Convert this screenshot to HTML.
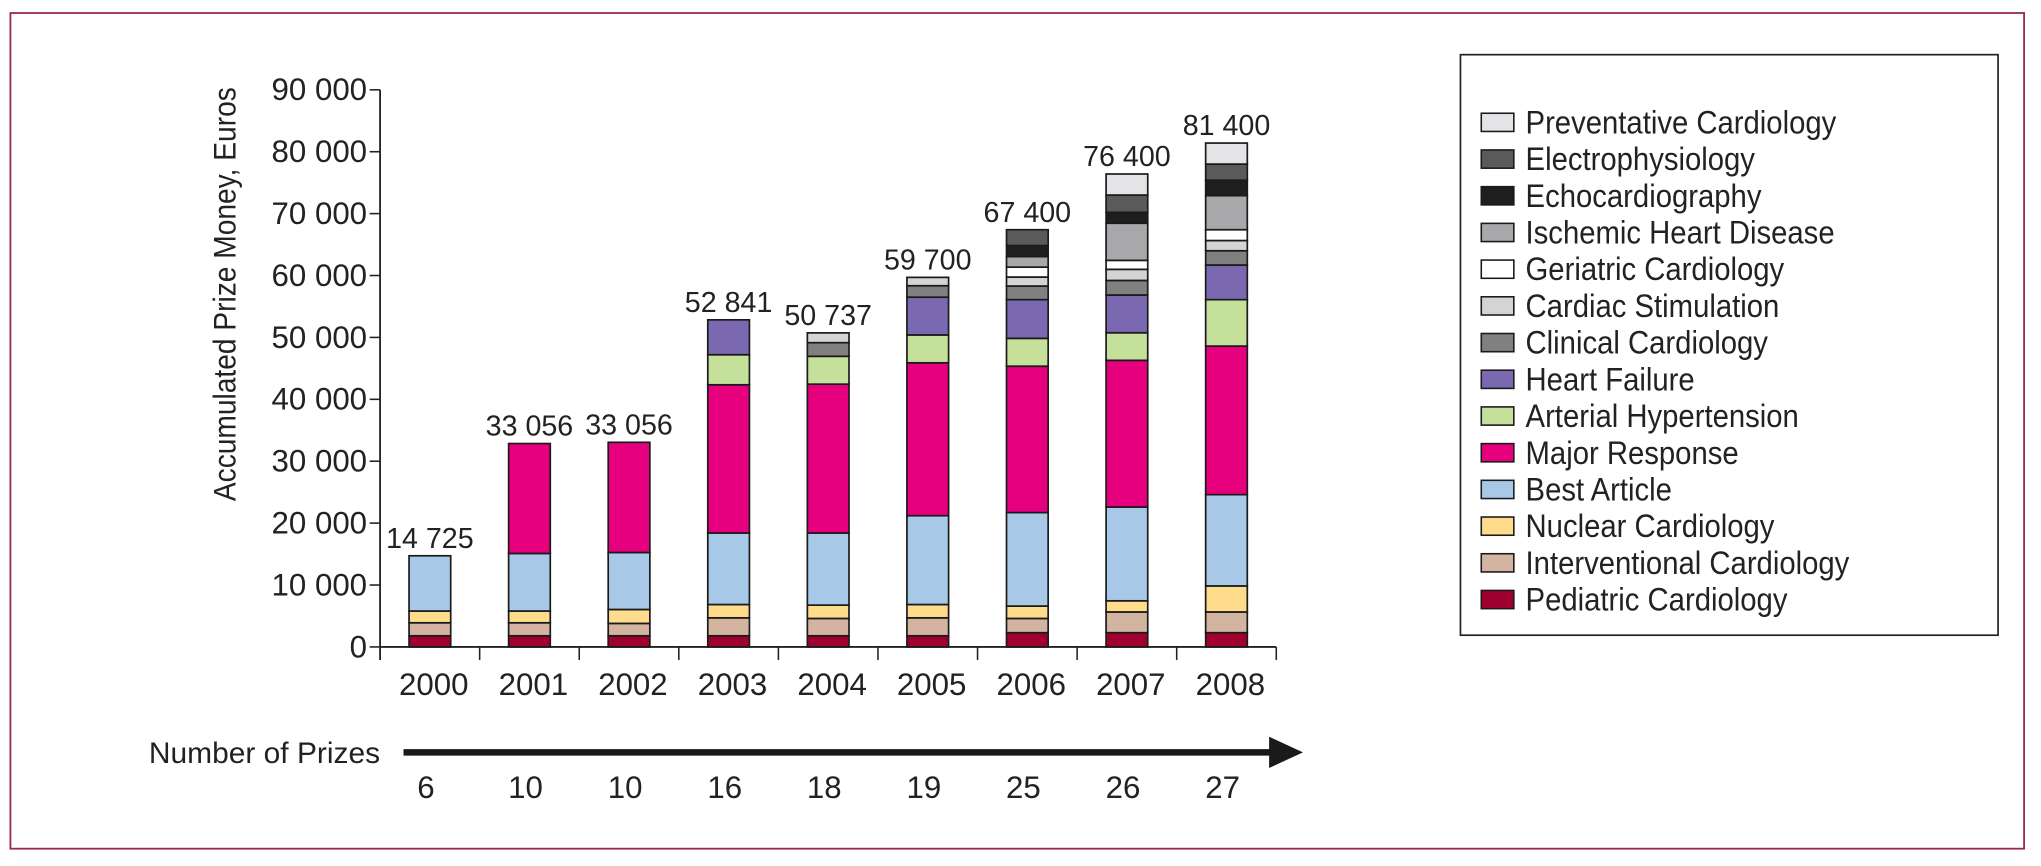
<!DOCTYPE html>
<html><head><meta charset="utf-8">
<style>
html,body{margin:0;padding:0;background:#fff;}
svg{display:block;}
text{font-family:"Liberation Sans Narrow","Liberation Sans",sans-serif;fill:#222;}
</style></head>
<body>
<svg id="chart" width="2041" height="866" viewBox="0 0 1568 665.3" preserveAspectRatio="none" xmlns="http://www.w3.org/2000/svg">
<rect x="8" y="10" width="1547" height="642" fill="none" stroke="#9a2a50" stroke-width="1.4"/>
<text transform="translate(181,226) rotate(-90)" text-anchor="middle" font-size="24" textLength="318" lengthAdjust="spacingAndGlyphs">Accumulated Prize Money, Euros</text>
<g id="axes"></g><g id="bars"></g>
<g id="legend"><rect x="1122" y="42" width="413" height="446" fill="#fff" stroke="#222" stroke-width="1.3"/></g>
<text x="292" y="586" text-anchor="end" font-size="23">Number of Prizes</text>
<line x1="310" y1="578" x2="980" y2="578" stroke="#1a1a1a" stroke-width="5"/>
<polygon points="975,566 1001,578 975,590" fill="#1a1a1a"/>
<g id="counts"></g>
</svg>
<script>
const years = ["2000","2001","2002","2003","2004","2005","2006","2007","2008"];
const totals = ["14 725","33 056","33 056","52 841","50 737","59 700","67 400","76 400","81 400"];
const prizes = [6,10,10,16,18,19,25,26,27];
const categories = ["Pediatric Cardiology","Interventional Cardiology","Nuclear Cardiology","Best Article","Major Response","Arterial Hypertension","Heart Failure","Clinical Cardiology","Cardiac Stimulation","Geriatric Cardiology","Ischemic Heart Disease","Echocardiography","Electrophysiology","Preventative Cardiology"];
const colors = ["#a0002e","#d2b4a0","#fedc8c","#a8c8e8","#e6007e","#c4e09a","#7a68b0","#808080","#d4d4d4","#ffffff","#a8a8aa","#1e1e1e","#5a5a5a","#e4e4e6"];
const pediatric      = [1800,1800,1800,1800,1800,1800,2300,2300,2300];
const interventional = [2100,2100,2000,2900,2800,2900,2300,3350,3350];
const nuclear        = [1900,1900,2250,2150,2150,2150,2000,1800,4200];
const bestArticle    = [8925,9300,9200,11550,11650,14350,15100,15150,14750];
const majorResponse  = [0,17756,17806,23950,24050,24700,23650,23700,24000];
const arterialHyp    = [0,0,0,4850,4500,4500,4500,4450,7500];
const heartFailure   = [0,0,0,5641,0,6100,6250,6100,5600];
const clinical       = [0,0,0,0,2200,1850,2200,2350,2300];
const cardiacStim    = [0,0,0,0,1587,1350,1450,1800,1650];
const geriatric      = [0,0,0,0,0,0,1600,1450,1750];
const ischemic       = [0,0,0,0,0,0,1700,6000,5500];
const echo           = [0,0,0,0,0,0,1800,1750,2500];
const electro        = [0,0,0,0,0,0,2550,2800,2600];
const preventative   = [0,0,0,0,0,0,0,3400,3400];
const yTicks = [0,10000,20000,30000,40000,50000,60000,70000,80000,90000];
const yTickLabels = ["0","10 000","20 000","30 000","40 000","50 000","60 000","70 000","80 000","90 000"];

const series=[pediatric,interventional,nuclear,bestArticle,majorResponse,arterialHyp,heartFailure,clinical,cardiacStim,geriatric,ischemic,echo,electro,preventative];
const NS="http://www.w3.org/2000/svg";
const X0=292, BAND=76.5, BW=32, Y0=497, YMAX=90000, YTOP=69;
const yS=v=>Y0-(v/YMAX)*(Y0-YTOP);
const xC=i=>X0+BAND*(i+0.5);
function mk(tag,attrs,parent,txt){const e=document.createElementNS(NS,tag);for(const k in attrs)e.setAttribute(k,attrs[k]);if(txt!==undefined)e.textContent=txt;parent.appendChild(e);return e;}
const axes=document.getElementById('axes');
let e;
e=mk('line',{x1:X0,y1:YTOP,x2:X0,y2:Y0+10,stroke:'#222','stroke-width':1.4},axes);


e=mk('line',{x1:X0,y1:Y0,x2:X0+BAND*9,y2:Y0,stroke:'#222','stroke-width':1.4},axes);


yTicks.forEach((v,i)=>{
  e=mk('line',{x1:X0-8,y1:yS(v),x2:X0,y2:yS(v),stroke:'#222','stroke-width':1.2},axes);
  
  
  e=mk('text',{x:X0-10,y:yS(v)+8,'text-anchor':'end','font-size':24},axes,yTickLabels[i]);
  
  
});
for(let i=1;i<=9;i++){
  e=mk('line',{x1:X0+BAND*i,y1:Y0,x2:X0+BAND*i,y2:Y0+10,stroke:'#222','stroke-width':1.2},axes);
  
  
}
const bars=document.getElementById('bars');
const counts=document.getElementById('counts');
years.forEach((yr,i)=>{
  let acc=0;
  series.forEach((s,k)=>{
    const v=s[i]; if(!v) return;
    const r=mk('rect',{x:xC(i)-BW/2,y:yS(acc+v),width:BW,height:yS(acc)-yS(acc+v),fill:colors[k],stroke:'#1a1a1a','stroke-width':1.3},bars);
    
    
    acc+=v;
  });
  e=mk('text',{x:xC(i),y:yS(acc)-6,'text-anchor':'middle','font-size':22},bars,totals[i]);
  
  
  e=mk('text',{x:xC(i)+3,y:534,'text-anchor':'middle','font-size':24},axes,yr);
  
  
  e=mk('text',{x:xC(i)-3,y:613,'text-anchor':'middle','font-size':24},counts,prizes[i]);
  
  
});
const legend=document.getElementById('legend');
for(let k=categories.length-1,row=0;k>=0;k--,row++){
  const cy=94+row*28.2;
  e=mk('rect',{x:1138,y:cy-7,width:25,height:14,fill:colors[k],stroke:'#1a1a1a','stroke-width':1.2},legend);
  
  
  e=mk('text',{transform:'translate(1172,'+(cy+8.5)+') scale(0.9,1)','font-size':25},legend,categories[k]);
  
  
}
</script>
</body></html>
